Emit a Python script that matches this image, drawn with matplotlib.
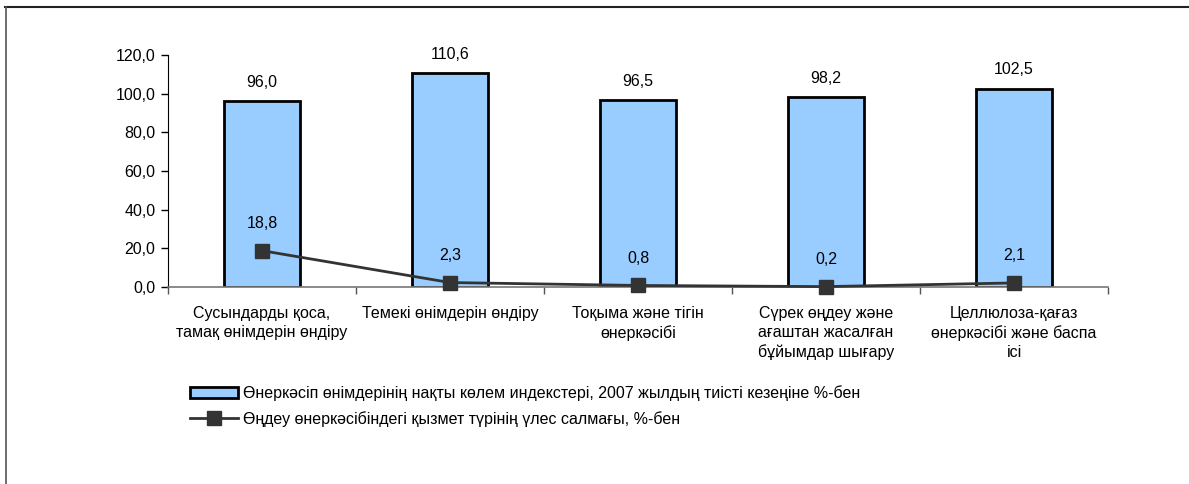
import matplotlib
matplotlib.use("Agg")
import matplotlib.pyplot as plt
from matplotlib.patches import Patch
from matplotlib.lines import Line2D

plt.rcParams['font.family'] = ['Liberation Sans', 'DejaVu Sans']

categories = ["Сусындарды қоса,\nтамақ өнімдерін өндіру",
              "Темекі өнімдерін өндіру",
              "Тоқыма және тігін\nөнеркәсібі",
              "Сүрек өңдеу және\nағаштан жасалған\nбұйымдар шығару",
              "Целлюлоза-қағаз\nөнеркәсібі және баспа\nісі"]
volume_index = [96.0, 110.6, 96.5, 98.2, 102.5]
share = [18.8, 2.3, 0.8, 0.2, 2.1]
yticks = [0, 20, 40, 60, 80, 100, 120]
legend_labels = ["Өнеркәсіп өнімдерінің нақты көлем индекстері, 2007 жылдың тиісті кезеңіне %-бен",
                 "Өңдеу өнеркәсібіндегі қызмет түрінің үлес салмағы, %-бен"]

FS = 11.5

def fmt(v):
    return f"{v:.1f}".replace(".", ",")

fig = plt.figure(figsize=(11.89, 4.84), dpi=100)
ax = fig.add_axes([168/1189, 1-287/484, (1108-168)/1189, (287-55)/484])

x = list(range(len(categories)))
ax.bar(x, volume_index, width=0.40, color="#99CCFF", edgecolor="black", linewidth=2, zorder=2)
ax.plot(x, share, color="#333333", linewidth=2, marker="s", markersize=10.5,
        markerfacecolor="#333333", markeredgecolor="#333333", zorder=3, clip_on=False)

for xi, v in zip(x, volume_index):
    ax.annotate(fmt(v), (xi, v), xytext=(0, 13.7), textcoords="offset points",
                ha="center", va="center", fontsize=FS)
for xi, v in zip(x, share):
    ax.annotate(fmt(v), (xi, v), xytext=(0, 19.5), textcoords="offset points",
                ha="center", va="center", fontsize=FS)

ax.set_xlim(-0.5, len(categories) - 0.5)
ax.set_ylim(0, 120)
ax.set_yticks(yticks)
ax.set_yticklabels([fmt(v) for v in yticks], fontsize=FS)
ax.set_xticks([i - 0.5 for i in range(len(categories) + 1)], minor=False)
ax.set_xticklabels([])
ax.tick_params(axis="x", length=5, direction="out", color="#555555", width=1)
ax.tick_params(axis="y", length=5, direction="out", width=1, pad=4)
for i, c in enumerate(categories):
    ax.text(i, -9.6, c, ha="center", va="top", fontsize=FS, linespacing=1.36)

for s in ["top", "right"]:
    ax.spines[s].set_visible(False)
ax.spines["bottom"].set_color("#777777")
ax.spines["bottom"].set_linewidth(1.2)
ax.spines["left"].set_color("black")

handles = [Patch(facecolor="#99CCFF", edgecolor="black", linewidth=2),
           Line2D([0], [0], color="#333333", linewidth=2, marker="s", markersize=10)]
leg = fig.legend(handles, legend_labels, loc="upper left", bbox_to_anchor=(184/1189, 1-379/484),
                 frameon=False, fontsize=FS, handlelength=2.95, handleheight=0.75,
                 handletextpad=0.37, labelspacing=0.62, borderaxespad=0)

# figure border (top and left only visible)
fig.add_artist(Line2D([5/1189, 1], [1-6.5/484, 1-6.5/484], color="#222222", linewidth=1.5,
                      transform=fig.transFigure))
fig.add_artist(Line2D([5.5/1189, 5.5/1189], [0, 1-6.5/484], color="#555555", linewidth=1.2,
                      transform=fig.transFigure))

fig.savefig("out.png", dpi=100)
